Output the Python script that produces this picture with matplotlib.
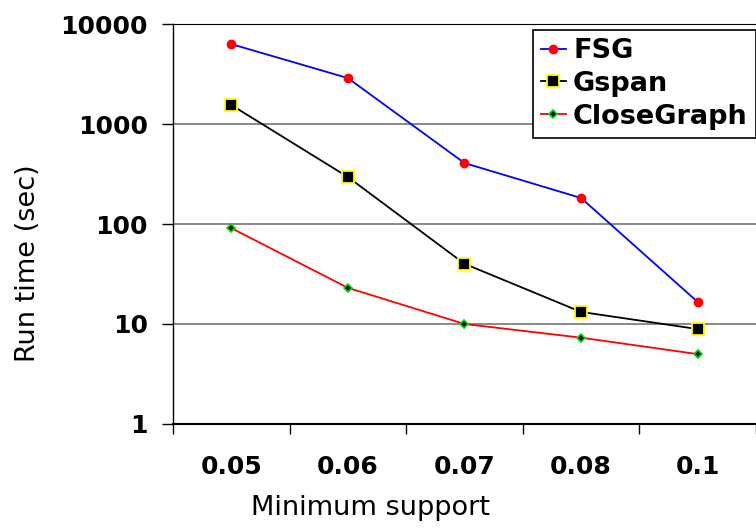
import numpy as np
import matplotlib.pyplot as plt

# data
supports = ["0.05", "0.06", "0.07", "0.08", "0.1"]
fsg = [6300, 2880, 407, 182, 16.6]
gspan = [1550, 295, 40, 13.2, 8.9]
closegraph = [91, 23, 10, 7.3, 5.0]

x = np.arange(len(supports))

fig = plt.figure(figsize=(7.56, 5.29), dpi=100)
ax = fig.add_axes([0.2288, 0.1985, 0.7712, 0.7561])

ax.plot(x, fsg, "-o", color="blue", lw=1.3, markersize=6,
        markerfacecolor="red", markeredgecolor="red", label="FSG")
ax.plot(x, gspan, "-s", color="black", lw=1.3, markersize=9,
        markerfacecolor="black", markeredgecolor="yellow", markeredgewidth=1.3,
        label="Gspan")
ax.plot(x, closegraph, "-D", color="red", lw=1.3, markersize=4,
        markerfacecolor="black", markeredgecolor="#00dd00", markeredgewidth=1.2,
        label="CloseGraph")

ax.set_yscale("log")
ax.set_ylim(1, 10000)
ax.set_xlim(-0.5, len(supports) - 0.5)
ax.set_yticks([1, 10, 100, 1000, 10000])
ax.set_yticklabels(["1", "10", "100", "1000", "10000"])
ax.yaxis.set_minor_locator(plt.NullLocator())
ax.set_xticks(x)
ax.set_xticklabels(supports)
ax.set_xticks(np.arange(len(supports) + 1) - 0.5, minor=True)
ax.tick_params(axis="x", which="major", length=0, pad=22)
ax.tick_params(axis="x", which="minor", length=7, width=1, color="black")
ax.tick_params(axis="y", length=8, width=1, color="black", pad=10)
for lab in ax.get_xticklabels() + ax.get_yticklabels():
    lab.set_fontsize(18)
    lab.set_fontweight("bold")

ax.grid(axis="y", color="gray", lw=1.3)
ax.set_axisbelow(True)
ax.spines["right"].set_visible(False)
ax.spines["top"].set_color("black")
ax.spines["left"].set_linewidth(1)
ax.spines["bottom"].set_linewidth(1.5)

ax.set_xlabel("Minimum support", fontsize=19.5, va="center")
ax.xaxis.set_label_coords(0.338, -0.21)
ax.set_ylabel("Run time (sec)", fontsize=19.5, va="center")
ax.yaxis.set_label_coords(-0.249, 0.4025)

leg = ax.legend(loc="upper right", bbox_to_anchor=(1.0, 0.9433), bbox_transform=fig.transFigure,
                prop={"size": 19.5, "weight": "bold"}, frameon=True, fancybox=False,
                edgecolor="black", framealpha=1, handlelength=0.95, handletextpad=0.25,
                borderpad=0.3, labelspacing=0.25, borderaxespad=0)
leg.get_frame().set_linewidth(1.2)

fig.savefig("out.png", dpi=100)
